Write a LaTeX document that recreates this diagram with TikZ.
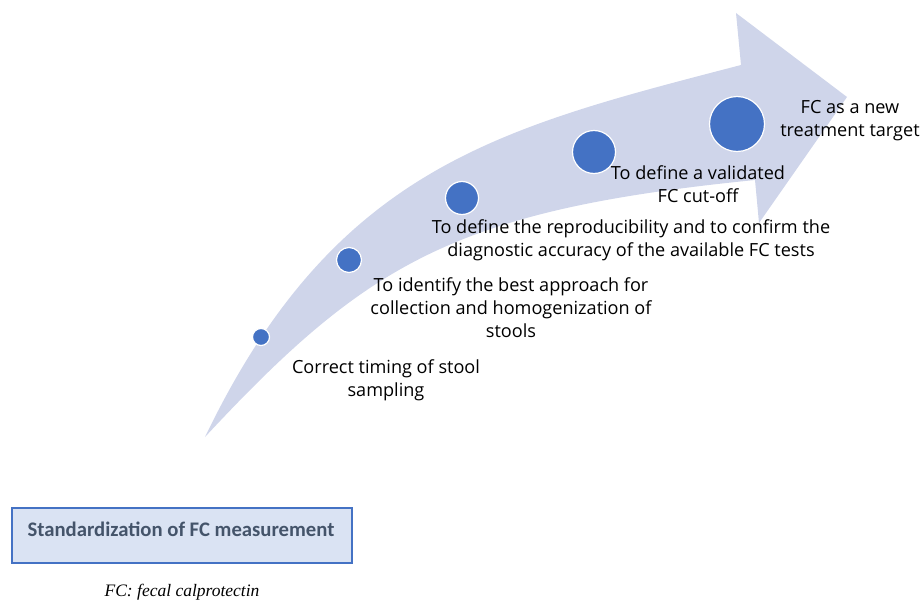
\documentclass[tikz,border=0pt]{standalone}
\usepackage{fontspec}
\setmainfont{Open Sans}
\newfontfamily\boxfont{Carlito}
\newfontfamily\footfont{Liberation Serif}
\definecolor{bandc}{HTML}{CFD5EA}
\definecolor{dotc}{HTML}{4472C4}
\definecolor{boxfill}{HTML}{DAE3F3}
\definecolor{boxtext}{HTML}{44546A}
\tikzset{
  dot/.style={circle, fill=dotc, draw=white, line width=1.2pt, inner sep=0pt, minimum size=#1},
  lbl/.style={align=center, font=\fontsize{18.1}{23}\selectfont, text=black, inner sep=0pt},
}
\begin{document}
\begin{tikzpicture}[x=1pt,y=-1pt]
\useasboundingbox (0,0) rectangle (921,602);
% curved arrow
\fill[bandc] (205,437) .. controls (335,167) and (499,128) .. (741,65)
  -- (736,13) -- (847,97) -- (759,223) -- (755,180)
  .. controls (456,210) and (368,262) .. (205,437) -- cycle;
% dots
\node[dot=17pt] (d1) at (261,337) {};
\node[dot=25pt] (d2) at (349,260) {};
\node[dot=33pt] (d3) at (462,198) {};
\node[dot=43pt] (d4) at (594,152) {};
\node[dot=55pt] (d5) at (737,124) {};
% labels
\node[lbl] (t1) at (386,380.5) {Correct timing of stool\\sampling};
\node[lbl] (t2) at (511,308) {To identify the best approach for\\collection and homogenization of\\stools};
\node[lbl] (t3) at (631,240.5) {To define the reproducibility and to confirm the\\diagnostic accuracy of the available FC tests};
\node[lbl] (t4) at (698,184) {To define a validated\\FC cut-off};
\node[lbl] (t5) at (850,120.5) {FC as a new\\treatment target};
% box
\draw[draw=dotc, fill=boxfill, line width=1.3pt] (12,508) rectangle (352,563);
\node[font=\boxfont\fontsize{20.7}{24}\selectfont\bfseries, text=boxtext] (box) at (181,529) {Standardization of FC measurement};
% footnote
\node[font=\footfont\itshape\fontsize{17.5}{20}\selectfont] (fn) at (182,592) {FC: fecal calprotectin};
\end{tikzpicture}
\end{document}
